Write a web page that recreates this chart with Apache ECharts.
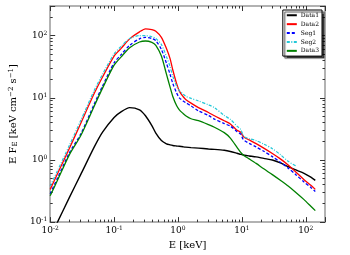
<!DOCTYPE html>
<html><head><meta charset="utf-8">
<script src="https://cdn.jsdelivr.net/npm/echarts@6/dist/echarts.min.js"></script>
<style>html,body{margin:0;padding:0;background:#fff}#c{width:350px;height:255px}</style>
</head><body><div id="c"></div>
<script>
// Energy grid [keV]
const energy = [0.01, 0.013, 0.02, 0.03, 0.049, 0.066, 0.1, 0.13, 0.175, 0.25, 0.31, 0.39, 0.45, 0.55, 0.66, 0.75, 0.83, 0.95, 1.05, 1.2, 1.32, 1.6, 2.09, 3.0, 3.72, 5.3, 6.6, 8.4, 9.6, 10.3, 11, 13, 16.7, 22, 30, 40, 53, 70, 94, 120, 141];
// E F_E values
const data1 = [0.058, 0.1, 0.25, 0.58, 1.62, 2.8, 4.83, 6.0, 6.95, 6.4, 5.14, 3.57, 2.7, 2.05, 1.82, 1.75, 1.71, 1.68, 1.66, 1.63, 1.61, 1.58, 1.55, 1.5, 1.48, 1.43, 1.37, 1.28, 1.23, 1.21, 1.19, 1.16, 1.12, 1.06, 1.0, 0.9, 0.78, 0.69, 0.61, 0.53, 0.47];
const data2 = [0.336, 0.6, 1.54, 3.87, 11.8, 21.6, 47, 63, 88.7, 115, 129, 125, 118, 94, 62, 43, 28, 17, 12.8, 10.5, 9.4, 8.2, 6.95, 5.8, 5.14, 4.28, 3.79, 3.0, 2.8, 2.45, 2.3, 2.1, 1.83, 1.55, 1.27, 1.04, 0.83, 0.64, 0.48, 0.39, 0.336];
const seg1 = [0.286, 0.51, 1.31, 2.6, 8.0, 15.5, 36.5, 50, 70, 89, 94, 90, 83, 60, 36, 24, 17, 12, 10, 8.9, 8.35, 7.4, 6.16, 5.2, 4.54, 3.85, 3.5, 2.85, 2.6, 2.2, 2.05, 1.85, 1.62, 1.38, 1.13, 0.92, 0.74, 0.58, 0.44, 0.36, 0.31];
const seg2 = [0.38, 0.67, 1.72, 4.3, 13.2, 24, 51, 68, 90, 100, 100, 96, 90, 72, 46, 32, 22, 15.5, 13, 11.5, 10.6, 9.8, 8.9, 7.7, 6.95, 5.2, 4.5, 3.5, 3.1, 2.6, 2.35, 2.2, 2.05, 1.8, 1.52, 1.22, 0.95, 0.8, null, null, null];
const data3 = [0.265, 0.47, 1.22, 2.45, 7.4, 14.3, 33.5, 46, 64, 79, 82, 78, 70, 47, 24, 15, 10.5, 7.5, 6.4, 5.6, 5.14, 4.6, 4.28, 3.7, 3.36, 2.75, 2.25, 1.6, 1.32, 1.22, 1.16, 1.04, 0.88, 0.72, 0.58, 0.47, 0.38, 0.3, 0.23, 0.18, 0.153];
const seriesNames = ['Data1', 'Data2', 'Seg1', 'Seg2', 'Data3'];
const seriesValues = [data1, data2, seg1, seg2, data3];
const xLabel = 'E [keV]';

const colors = ['#000000', '#ff0000', '#0000ff', '#22c8d8', '#008000'];
const widths = [1.4, 1.3, 1.3, 1.2, 1.3];
const dashes = ['solid', 'solid', [3, 2], [3, 1.5, 1, 1.5], 'solid'];

const serif = 'DejaVu Serif';
function expLabel(v) {
  const e = Math.round(Math.log10(v));
  return '{b|10}{s|' + e + '}';
}
const labelRich = {
  b: { fontFamily: serif, fontSize: 9, color: '#000', lineHeight: 11 },
  s: { fontFamily: serif, fontSize: 6, color: '#000', lineHeight: 11, verticalAlign: 'top', padding: [0, 0, 4, 0] }
};
const tickStyle = { color: '#333', width: 1 };
function axisCommon(extra) {
  return Object.assign({
    type: 'log', logBase: 10,
    axisLine: { show: true, lineStyle: { color: '#999', width: 1.5 } },
    axisTick: { show: true, inside: true, length: 5, lineStyle: tickStyle },
    minorTick: { show: true, splitNumber: 9, length: 2.5, lineStyle: tickStyle },
    splitLine: { show: false },
    minorSplitLine: { show: false }
  }, extra);
}

const chart = echarts.init(document.getElementById('c'), null, { renderer: 'canvas' });
chart.setOption({
  animation: false,
  backgroundColor: '#fff',
  grid: { left: 39, right: 25, top: 6, bottom: 28 },
  xAxis: [
    axisCommon({
      min: 0.01, max: 200, position: 'bottom',
      axisLabel: { formatter: expLabel, rich: labelRich, margin: 3, showMaxLabel: false, showMinLabel: true },
      name: xLabel, nameLocation: 'middle', nameGap: 13,
      nameTextStyle: { fontFamily: serif, fontSize: 10, color: '#000', verticalAlign: 'top' }
    }),
    axisCommon({ min: 0.01, max: 200, position: 'top', axisLabel: { show: false } })
  ],
  yAxis: [
    axisCommon({
      min: 0.1, max: 300, position: 'left',
      axisLabel: { formatter: expLabel, rich: labelRich, margin: 3, showMaxLabel: false, showMinLabel: true },
      name: 'E F{sub|E} [keV cm{sup|−2} s{sup|−1}]', nameLocation: 'middle', nameGap: 27, nameRotate: 90,
      nameTextStyle: {
        fontFamily: serif, fontSize: 10, color: '#000',
        rich: {
          sub: { fontFamily: serif, fontSize: 7, color: '#000', verticalAlign: 'bottom', padding: [4, 0, 0, 0] },
          sup: { fontFamily: serif, fontSize: 7, color: '#000', verticalAlign: 'top', padding: [0, 0, 4, 0] }
        }
      }
    }),
    axisCommon({ min: 0.1, max: 300, position: 'right', axisLabel: { show: false } })
  ],
  legend: {
    orient: 'vertical', right: 28, top: 10,
    data: seriesNames,
    itemWidth: 10, itemHeight: 6, itemGap: 2.4,
    padding: [2, 3, 2, 3],
    itemStyle: { opacity: 0 },
    backgroundColor: '#fff', borderColor: '#000', borderWidth: 1, borderRadius: 0,
    shadowColor: 'rgba(0,0,0,0.7)', shadowOffsetX: 2, shadowOffsetY: 2, shadowBlur: 1,
    textStyle: { fontFamily: serif, fontSize: 6, lineHeight: 6.5, color: '#000', padding: [0, 0, 0, -1] }
  },
  series: seriesNames.map((name, k) => ({
    name: name,
    type: 'line',
    xAxisIndex: 0, yAxisIndex: 0,
    showSymbol: false, symbol: 'none',
    smooth: 0.25,
    clip: true,
    color: colors[k],
    lineStyle: { color: colors[k], width: widths[k], type: dashes[k] },
    data: energy.map((e, i) => [e, seriesValues[k][i]]).filter(p => p[1] != null)
  }))
});
</script></body></html>
